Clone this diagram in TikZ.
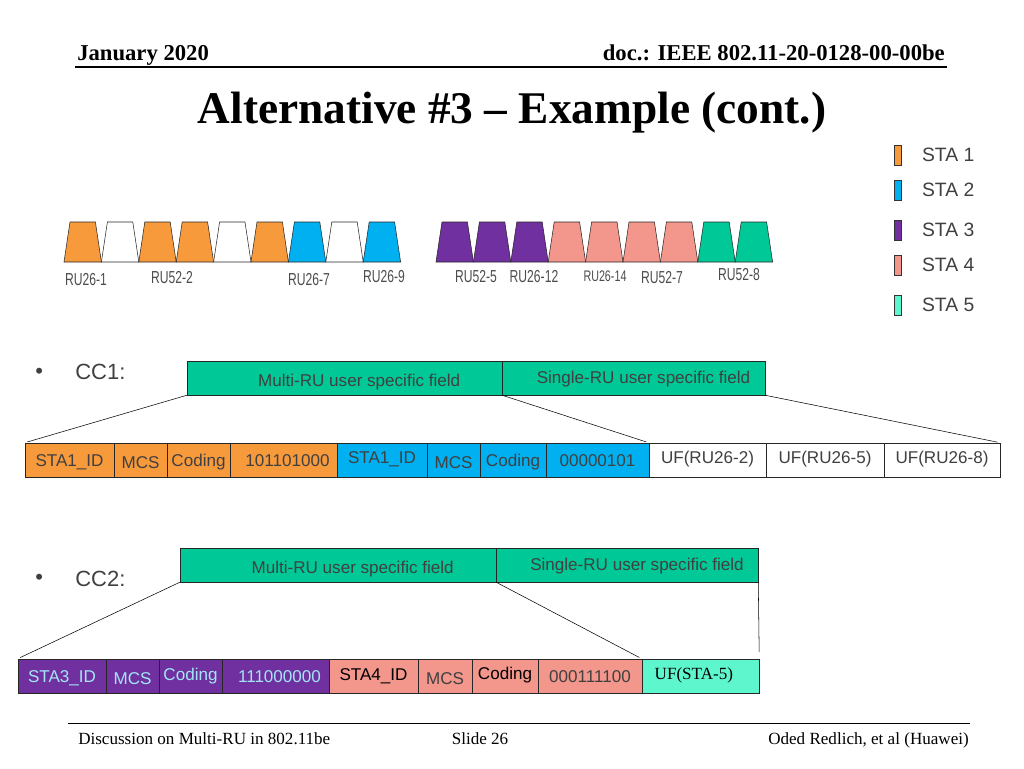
\documentclass[tikz,border=0pt]{standalone}
\usepackage{fontspec}
\setmainfont{Liberation Serif}
\setsansfont{Liberation Sans}
\newfontfamily\rufont[FakeStretch=0.7]{Liberation Sans}
\usepackage{tikz}
\usetikzlibrary{positioning}
\definecolor{staorange}{HTML}{F79A3C}
\definecolor{stablue}{HTML}{00B0F0}
\definecolor{stapurple}{HTML}{7030A0}
\definecolor{stapink}{HTML}{F3968B}
\definecolor{stagreen}{HTML}{00C896}
\definecolor{staaqua}{HTML}{5EF6CC}
\definecolor{txtgray}{HTML}{404040}
\definecolor{txtcyan}{HTML}{A2E6F6}

\tikzset{
  cell/.style={draw=black!85, inner sep=0pt, minimum height=25.5pt, text height=9pt, text depth=0pt,
    font=\sffamily\fontsize{12.8}{14}\selectfont, text=txtgray},
  field/.style={cell, fill=stagreen, text=black!75},
  rushape/.style={draw=black!85, line join=miter},
  rulabel/.style={font=\rufont\fontsize{13}{14}\selectfont, text=black!70, inner sep=0pt},
  legbar/.style={draw=black!80, minimum width=5.25pt, minimum height=15pt, inner sep=0pt},
  legtext/.style={font=\sffamily\fontsize{14.5}{16}\selectfont, text=txtgray, inner sep=0pt, anchor=west},
  cclabel/.style={font=\sffamily\fontsize{16.5}{18}\selectfont, text=txtgray, inner sep=0pt, anchor=west},
  foot/.style={font=\fontsize{12.8}{14}\selectfont, inner sep=0pt}
}

\begin{document}
\begin{tikzpicture}[x=0.75pt, y=-0.75pt]
  \useasboundingbox (0,0) rectangle (1024,768);

  % header and title
  \node[font=\bfseries\fontsize{17}{20}\selectfont, inner sep=0pt, anchor=base west] (date) at (77,60) {January 2020};
  \node[font=\bfseries\fontsize{17}{20}\selectfont, inner sep=0pt, anchor=base east] (docid) at (945,60) {doc.: IEEE 802.11-20-0128-00-00be};
  \draw[line width=0.8pt] (75,67) -- (947,67);
  \node[font=\bfseries\fontsize{34}{40}\selectfont, inner sep=0pt, anchor=base] (title) at (512,123) {Alternative \#3 -- Example (cont.)};

  % legend
  \node[legbar, fill=staorange] (leg1) at (898,155) {};
  \node[legbar, fill=stablue] (leg2) at (898,190) {};
  \node[legbar, fill=stapurple] (leg3) at (898,230) {};
  \node[legbar, fill=stapink] (leg4) at (898,265) {};
  \node[legbar, fill=staaqua] (leg5) at (898,305) {};
  \node[legtext, right=15pt of leg1] (sta1) {STA 1};
  \node[legtext, right=15pt of leg2] (sta2) {STA 2};
  \node[legtext, right=15pt of leg3] (sta3) {STA 3};
  \node[legtext, right=15pt of leg4] (sta4) {STA 4};
  \node[legtext, right=15pt of leg5] (sta5) {STA 5};

  % resource units
  \foreach \c [count=\i from 0] in {staorange,white,staorange,staorange,white,staorange,stablue,white,stablue}
    \draw[rushape, fill=\c] (64+37.4*\i,262) -- ++(37.4,0) -- ++(-6,-40) -- ++(-25.4,0) -- cycle;
  \foreach \c [count=\i from 0] in {stapurple,stapurple,stapurple,stapink,stapink,stapink,stapink,stagreen,stagreen}
    \draw[rushape, fill=\c] (436+37.4*\i,262) -- ++(37.4,0) -- ++(-6,-40) -- ++(-25.4,0) -- cycle;

  \node[rulabel] (ruA) at (86,280) {RU26-1};
  \node[rulabel] (ruB) at (172,278) {RU52-2};
  \node[rulabel] (ruC) at (309,280) {RU26-7};
  \node[rulabel] (ruD) at (384,277) {RU26-9};
  \node[rulabel] (ruE) at (476,277) {RU52-5};
  \node[rulabel] (ruF) at (534,277) {RU26-12};
  \node[rulabel, font=\rufont\fontsize{11.5}{13}\selectfont] (ruG) at (605,276) {RU26-14};
  \node[rulabel] (ruH) at (662,278) {RU52-7};
  \node[rulabel] (ruI) at (739,275) {RU52-8};

  % CC1
  \node[cclabel] (b1) at (35,373) {\textbullet};
  \node[cclabel] (cc1) at (75,372) {CC1:};
  \node[field, minimum width=236.25pt] (mru1) at (344.5,378) {\hspace*{22pt}\raisebox{-1.5pt}{Multi-RU user specific field}};
  \node[field, minimum width=197.25pt] (sru1) at (633.5,378) {\hspace*{15pt}\raisebox{0.5pt}{Single-RU user specific field}};

  \node[cell, fill=staorange, minimum width=66.75pt] (r1a) at (69.5,460) {STA1\_ID};
  \node[cell, fill=staorange, minimum width=39.75pt] (r1b) at (140.5,460) {\raisebox{-2pt}{MCS}};
  \node[cell, fill=staorange, minimum width=47.25pt] (r1c) at (198.5,460) {Coding};
  \node[cell, fill=staorange, minimum width=80.25pt] (r1d) at (283.5,460) {\hspace*{6pt}101101000};
  \node[cell, fill=stablue, minimum width=67.5pt] (r1e) at (382,460) {\raisebox{2pt}{STA1\_ID}};
  \node[cell, fill=stablue, minimum width=39.75pt] (r1f) at (453.5,460) {\raisebox{-2pt}{MCS}};
  \node[cell, fill=stablue, minimum width=49.5pt] (r1g) at (513,460) {Coding};
  \node[cell, fill=stablue, minimum width=77.25pt] (r1h) at (597.5,460) {00000101};
  \node[cell, fill=white, minimum width=87.75pt] (r1i) at (707.5,460) {\raisebox{2pt}{UF(RU26-2)}};
  \node[cell, fill=white, minimum width=88.5pt] (r1j) at (825,460) {\raisebox{2pt}{UF(RU26-5)}};
  \node[cell, fill=white, minimum width=87pt] (r1k) at (942,460) {\raisebox{2pt}{UF(RU26-8)}};

  \draw[shorten >=2pt] (mru1.south west) -- (r1a.north west);
  \draw[shorten >=2pt] (mru1.south east) -- (r1i.north west);
  \draw[shorten >=2pt] (sru1.south east) -- (r1k.north east);

  % CC2
  \node[cclabel] (b2) at (35,579) {\textbullet};
  \node[cclabel] (cc2) at (75,579) {CC2:};
  \node[field, minimum width=237pt] (mru2) at (338,565) {\hspace*{22pt}\raisebox{-1.5pt}{Multi-RU user specific field}};
  \node[field, minimum width=196.5pt] (sru2) at (627,565) {\hspace*{15pt}\raisebox{0.5pt}{Single-RU user specific field}};

  \node[cell, fill=stapurple, text=txtcyan, minimum width=66pt] (r2a) at (62,676) {STA3\_ID};
  \node[cell, fill=stapurple, text=txtcyan, minimum width=39.75pt] (r2b) at (132.5,676) {\raisebox{-2pt}{MCS}};
  \node[cell, fill=stapurple, text=txtcyan, minimum width=47.25pt] (r2c) at (190.5,676) {\raisebox{1.5pt}{Coding}};
  \node[cell, fill=stapurple, text=txtcyan, minimum width=80.25pt] (r2d) at (275.5,676) {\hspace*{6pt}111000000};
  \node[cell, fill=stapink, text=black, minimum width=66.75pt] (r2e) at (373.5,676) {\raisebox{1.5pt}{STA4\_ID}};
  \node[cell, fill=stapink, minimum width=40.5pt] (r2f) at (445,676) {\raisebox{-2pt}{MCS}};
  \node[cell, fill=stapink, text=black, minimum width=49.5pt] (r2g) at (505,676) {\raisebox{2pt}{Coding}};
  \node[cell, fill=stapink, minimum width=78pt] (r2h) at (590,676) {000111100};
  \node[cell, fill=staaqua, text=black, font=\fontsize{12.8}{14}\selectfont, minimum width=87.75pt] (r2i) at (700.5,676) {\raisebox{2pt}{UF(STA-5)}\hspace*{10pt}};

  \draw[shorten >=2pt] (mru2.south west) -- (r2a.north west);
  \draw[shorten >=2pt] (mru2.south east) -- (r2i.north west);
  \draw[shorten >=5pt] (sru2.south east) -- (r2i.north east);

  % footer
  \draw[line width=0.6pt] (68,723) -- (970,723);
  \node[foot, anchor=base west] (topic) at (78,744) {Discussion on Multi-RU in 802.11be};
  \node[foot, anchor=base] (slide) at (480,744) {Slide 26};
  \node[foot, anchor=base east] (authors) at (969,744) {Oded Redlich, et al (Huawei)};
\end{tikzpicture}
\end{document}
